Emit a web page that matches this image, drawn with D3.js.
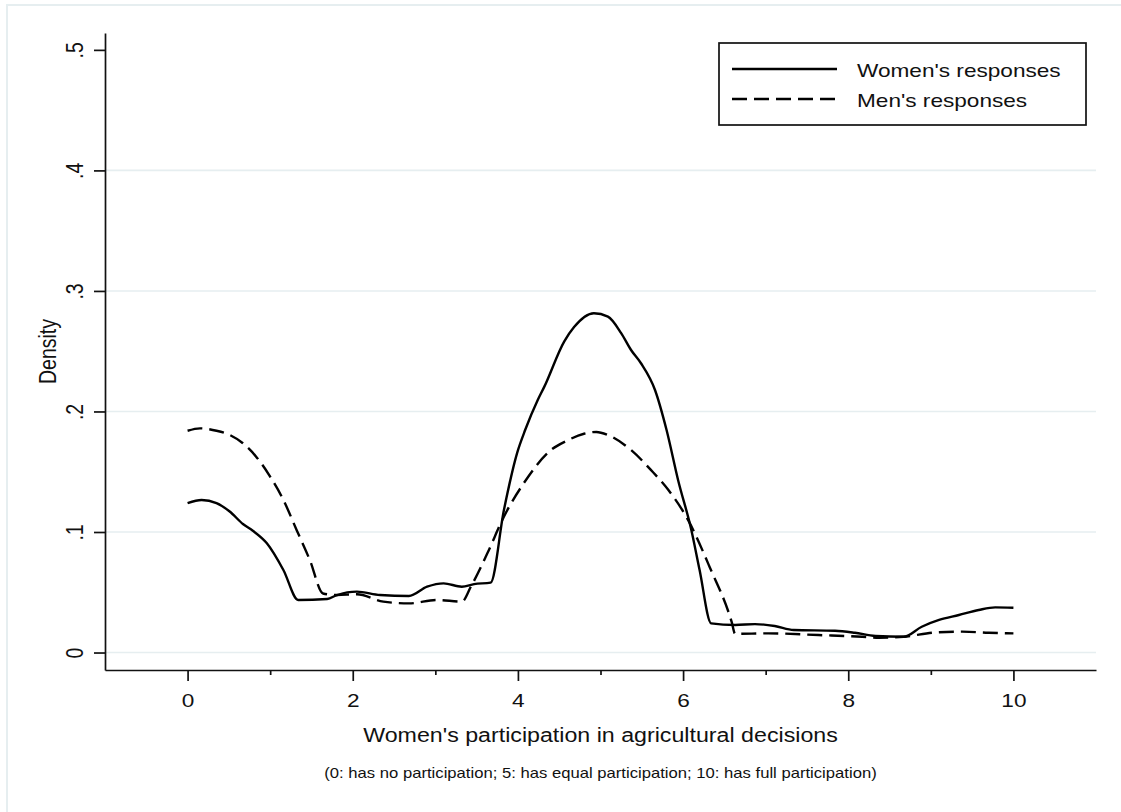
<!DOCTYPE html>
<html>
<head>
<meta charset="utf-8">
<script src="https://cdn.jsdelivr.net/npm/d3@7"></script>
<style>
  body { margin: 0; background: #fff; }
  svg { display: block; font-family: "Liberation Sans", Arial, sans-serif; }
</style>
</head>
<body>
<svg id="chart" width="1121" height="812"></svg>
<script>
// women's responses (kernel density)
const womenX = [0, 0.17, 0.35, 0.51, 0.67, 0.79, 0.96, 1.16, 1.34, 1.69, 1.81, 2.05, 2.33, 2.68, 2.9, 3.1, 3.32, 3.47, 3.67,
  3.83, 3.99, 4.09, 4.24, 4.32, 4.56, 4.68, 4.92, 5.09, 5.25, 5.37, 5.49, 5.66, 5.8, 5.94, 6.1, 6.2, 6.34,
  6.63, 6.87, 7.11, 7.34, 7.84, 8.08, 8.33, 8.67, 8.89, 9.1, 9.34, 9.58, 9.78, 10];
const womenY = [0.124, 0.1266, 0.124, 0.117, 0.1066, 0.101, 0.0906, 0.0685, 0.0436, 0.0444, 0.0477, 0.0505, 0.0477, 0.0469, 0.0546, 0.0574, 0.0546, 0.0568, 0.058,
  0.118, 0.1655, 0.185, 0.2095, 0.2206, 0.258, 0.27, 0.2815, 0.2787, 0.265, 0.251, 0.24, 0.2178, 0.1846, 0.143, 0.1017, 0.0685, 0.0242,
  0.0228, 0.0236, 0.022, 0.0187, 0.0181, 0.0164, 0.0137, 0.0131, 0.0214, 0.027, 0.0311, 0.0353, 0.0375, 0.0372];

// men's responses
const menX = [0, 0.15, 0.35, 0.51, 0.67, 0.83, 0.99, 1.16, 1.32, 1.48, 1.64, 1.81, 2.05, 2.37, 2.68, 3.02, 3.32, 3.43, 3.63, 3.83,
  4.07, 4.4, 4.6, 4.8, 4.95, 5.09, 5.37, 5.61, 5.82, 6.06, 6.32, 6.59, 6.63, 7.03, 7.64, 8.17, 8.37, 8.67, 9.06, 9.38, 9.7, 10];
const menY = [0.184, 0.186, 0.184, 0.1805, 0.1736, 0.1625, 0.147, 0.1266, 0.1017, 0.0768, 0.049, 0.0477, 0.0483, 0.0422, 0.0408, 0.0436, 0.0422, 0.0546, 0.0823, 0.1127,
  0.1404, 0.168, 0.176, 0.1815, 0.183, 0.1805, 0.168, 0.1515, 0.135, 0.11, 0.0712, 0.025, 0.0155, 0.0159, 0.0145, 0.0131, 0.0123, 0.0131, 0.0167, 0.0173, 0.0164, 0.0159];

const xMajor = [0, 2, 4, 6, 8, 10];
const xMinor = [1, 3, 5, 7, 9];
const yTicks = [0, 0.1, 0.2, 0.3, 0.4, 0.5];
const yGrid = [0, 0.1, 0.2, 0.3, 0.4];
const seriesNames = ["Women's responses", "Men's responses"];

const SX = 1.19; // text in the picture is stretched sideways
const gridColor = "#e6eef0";
const ink = "#111";

const svg = d3.select("#chart");

// light frame of the graph region
svg.append("rect")
  .attr("x", 7).attr("y", 5)
  .attr("width", 1140).attr("height", 830)
  .attr("fill", "none")
  .attr("stroke", gridColor)
  .attr("stroke-width", 2);

const x = d3.scaleLinear().domain([-1, 11]).range([105, 1096]);
const y = d3.scaleLinear().domain([-0.0145, 0.514]).range([670, 33]);

// grid
svg.append("g")
  .selectAll("line")
  .data(yGrid)
  .enter()
  .append("line")
  .attr("x1", x(-1)).attr("x2", x(11))
  .attr("y1", d => y(d)).attr("y2", d => y(d))
  .attr("stroke", gridColor)
  .attr("stroke-width", 1.6);

// x axis
const xAxis = svg.append("g")
  .attr("transform", `translate(0,${y(-0.0145)})`)
  .call(d3.axisBottom(x).tickValues(xMajor).tickSize(11).tickSizeOuter(0));

svg.append("g")
  .attr("transform", `translate(0,${y(-0.0145)})`)
  .call(d3.axisBottom(x).tickValues(xMinor).tickSize(5).tickSizeOuter(0).tickFormat(""))
  .select(".domain").remove();

xAxis.selectAll("text")
  .attr("y", 37).attr("dy", null)
  .attr("transform", `scale(${SX},1)`)
  .attr("font-size", 19)
  .attr("fill", ink);

// y axis
const yAxis = svg.append("g")
  .attr("transform", `translate(${x(-1)},0)`)
  .call(d3.axisLeft(y).tickValues(yTicks).tickSize(11).tickSizeOuter(0)
    .tickFormat(d => d === 0 ? "0" : d3.format(".1f")(d).replace(/^0/, "")));

yAxis.selectAll("text")
  .attr("x", 0).attr("dy", null)
  .attr("text-anchor", "middle")
  .attr("transform", `translate(-22,0) scale(${SX},1) rotate(-90)`)
  .attr("font-size", 19.5)
  .attr("fill", ink);

svg.selectAll(".domain, .tick line")
  .attr("stroke", ink)
  .attr("stroke-width", 1.7);

// curves
const line = d3.line()
  .x(d => x(d[0]))
  .y(d => y(d[1]))
  .curve(d3.curveMonotoneX);

svg.append("path")
  .datum(d3.zip(womenX, womenY))
  .attr("d", line)
  .attr("fill", "none")
  .attr("stroke", "#000")
  .attr("stroke-width", 2.4)
  .attr("stroke-linejoin", "round");

svg.append("path")
  .datum(d3.zip(menX, menY))
  .attr("d", line)
  .attr("fill", "none")
  .attr("stroke", "#000")
  .attr("stroke-width", 2.4)
  .attr("stroke-dasharray", "15,7");

// axis titles
svg.append("g")
  .attr("transform", `translate(56,${(y(-0.0145) + y(0.514)) / 2}) scale(${SX},1) rotate(-90)`)
  .append("text")
  .attr("text-anchor", "middle")
  .attr("font-size", 19.5)
  .attr("fill", ink)
  .text("Density");

svg.append("text")
  .attr("transform", `translate(${(x(-1) + x(11)) / 2},742) scale(${SX},1)`)
  .attr("text-anchor", "middle")
  .attr("font-size", 19.5)
  .attr("fill", ink)
  .text("Women's participation in agricultural decisions");

svg.append("text")
  .attr("transform", `translate(${(x(-1) + x(11)) / 2},778) scale(${SX},1)`)
  .attr("text-anchor", "middle")
  .attr("font-size", 14)
  .attr("fill", ink)
  .text("(0: has no participation; 5: has equal participation; 10: has full participation)");

// legend
const legend = svg.append("g").attr("transform", "translate(719,43)");
legend.append("rect")
  .attr("width", 367).attr("height", 82)
  .attr("fill", "#fff")
  .attr("stroke", ink)
  .attr("stroke-width", 1.7);

seriesNames.forEach((name, i) => {
  const row = legend.append("g").attr("transform", `translate(0,${26 + i * 30})`);
  row.append("line")
    .attr("x1", 13).attr("x2", 118)
    .attr("stroke", "#000")
    .attr("stroke-width", 2.4)
    .attr("stroke-dasharray", i === 0 ? null : "15,7");
  row.append("text")
    .attr("transform", `translate(138,8) scale(${SX},1)`)
    .attr("font-size", 19)
    .attr("fill", ink)
    .text(name);
});
</script>
</body>
</html>
